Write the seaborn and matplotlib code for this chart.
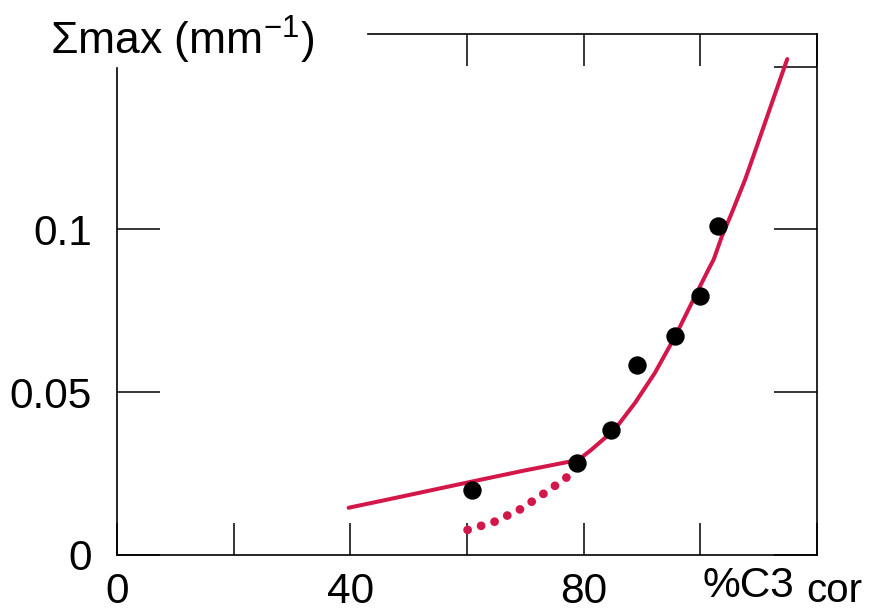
import numpy as np
import pandas as pd
import matplotlib
matplotlib.use("Agg")
import matplotlib.pyplot as plt
import seaborn as sns

# measured points (black dots)
pts_x = [60.9, 78.8, 84.7, 89.2, 95.6, 100.0, 103.1]
pts_y = [0.020, 0.0282, 0.0383, 0.0585, 0.0672, 0.0795, 0.101]

# fitted curve (solid)
fit_x = [39.7, 50.0, 60.7, 70.0, 79.1, 81.3, 85.3, 88.8, 92.2, 95.7, 99.1, 101.4,
         102.3, 103.7, 105.4, 107.7, 109.7, 112.3, 114.9]
fit_y = [0.0145, 0.0184, 0.0225, 0.0260, 0.0292, 0.0323, 0.0385, 0.0467, 0.0559, 0.0672, 0.0795, 0.0877,
         0.0908, 0.0979, 0.1051, 0.1154, 0.1256, 0.1390, 0.1523]

# extrapolated branch (dotted)
dot_x = [60.1, 64.7, 69.3, 74.1, 77.0, 78.8]
dot_y = [0.0077, 0.0102, 0.0142, 0.0200, 0.0237, 0.0277]

x_ticks = [0, 20, 40, 60, 80, 100, 120]
x_labels = ["0", "", "40", "", "80", "", ""]
y_ticks = [0, 0.05, 0.1]
y_labels = ["0", "0.05", "0.1"]

red = "#d4174a"

sns.set_style("ticks")
plt.rcParams['font.family'] = ['Liberation Sans', 'DejaVu Sans']
plt.rcParams['mathtext.fontset'] = 'custom'
plt.rcParams['mathtext.rm'] = 'Liberation Sans'
plt.rcParams['text.color'] = 'black'
plt.rcParams['xtick.color'] = 'black'
plt.rcParams['ytick.color'] = 'black'
plt.rcParams['xtick.labelcolor'] = 'black'
plt.rcParams['ytick.labelcolor'] = 'black'

fig = plt.figure(figsize=(8.75, 6.13), dpi=100)
ax = fig.add_axes([117/875, 1-555/613, 700/875, 521/613])

sns.lineplot(x=fit_x, y=fit_y, ax=ax, color=red, linewidth=2.9, estimator=None, sort=False)
sns.lineplot(x=dot_x, y=dot_y, ax=ax, color=red, linewidth=6.3, estimator=None, sort=False,
             linestyle=(0, (0.01, 1.6)), dash_capstyle='round')
sns.scatterplot(x=pts_x, y=pts_y, ax=ax, color='black', s=175, linewidth=0, zorder=5)

ax.set_xlim(0, 120)
ax.set_ylim(0, 0.16)
ax.set_xticks(x_ticks)
ax.set_xticklabels(x_labels)
ax.set_yticks(y_ticks)
ax.set_yticklabels(y_labels)
ax.tick_params(axis='x', direction='in', bottom=True, top=False, length=23, width=1.1,
               pad=12, labelsize=30.5)
ax.tick_params(axis='y', direction='in', left=True, right=False, length=31, width=1.1,
               pad=18, labelsize=30.5)

for s in ax.spines.values():
    s.set_color('black')
    s.set_linewidth(1.2)
ax.spines['left'].set_bounds(0, 0.1495)
ax.spines['top'].set_bounds(43, 120)

# ticks on top and right
top = ax.secondary_xaxis('top')
top.set_xticks([60, 80, 100, 120])
top.set_xticklabels([])
top.tick_params(direction='in', length=23, width=1.1)
for s in top.spines.values():
    s.set_visible(False)

right = ax.secondary_yaxis('right')
right.set_yticks([0, 0.05, 0.1, 0.15])
right.set_yticklabels([])
right.tick_params(direction='in', length=31, width=1.1)
for s in right.spines.values():
    s.set_visible(False)

ax.set_xlabel("")
ax.set_ylabel("")

fig.text(50/875, 1-55/613, r"Σmax (mm$^{\mathregular{-1}}$)", fontsize=32, ha='left', va='baseline')
fig.text(703/875, 1-597/613, "%C3", fontsize=30.5, ha='left', va='baseline')
fig.text(806/875, 1-602/613, "cor", fontsize=29, ha='left', va='baseline')

fig.savefig("out.png", dpi=100)
